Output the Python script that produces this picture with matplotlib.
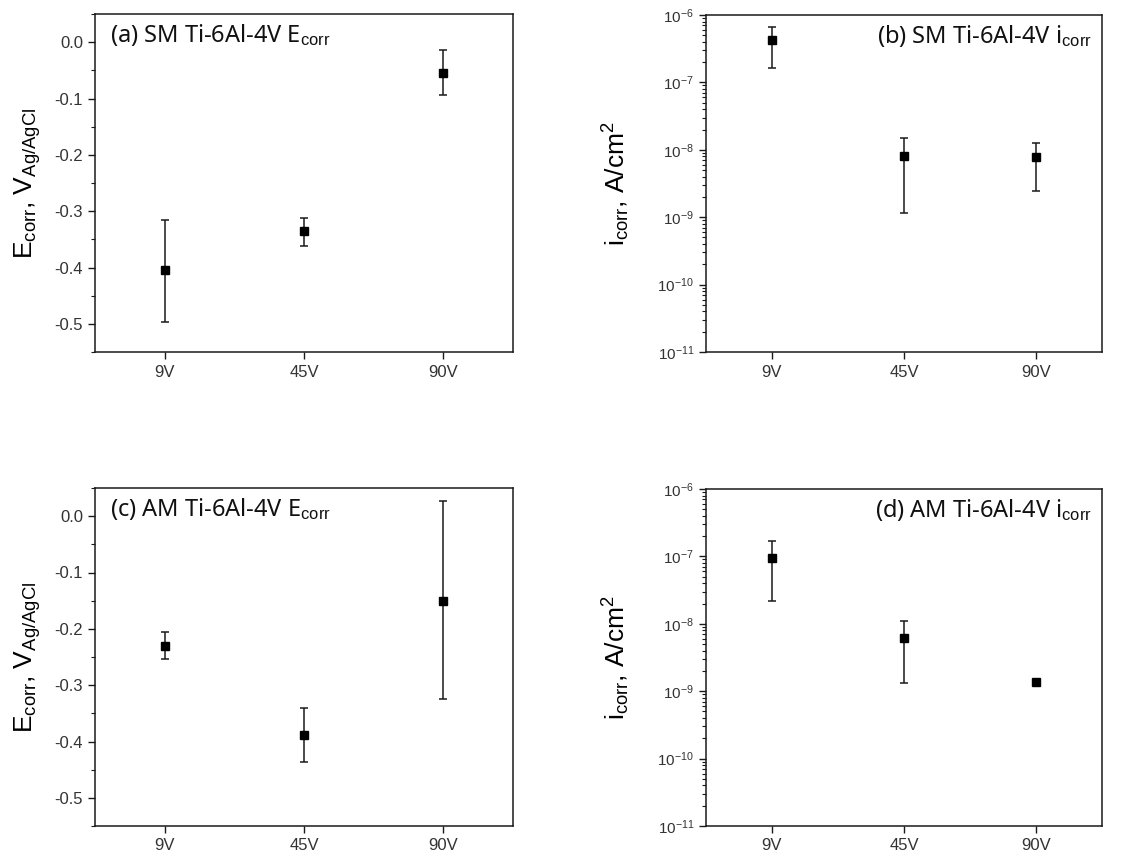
import matplotlib
matplotlib.use("Agg")
import matplotlib.pyplot as plt
import numpy as np
from matplotlib.ticker import MultipleLocator, LogLocator, NullFormatter

plt.rcParams['font.family'] = ['Liberation Sans', 'DejaVu Sans']
plt.rcParams['mathtext.fontset'] = 'custom'
plt.rcParams['mathtext.rm'] = 'Liberation Sans'
plt.rcParams['mathtext.it'] = 'Liberation Sans:italic'

# data
cats = ['9V', '45V', '90V']

sm_e = [-0.405, -0.335, -0.054]
sm_e_lo = [-0.497, -0.361, -0.093]
sm_e_hi = [-0.315, -0.312, -0.0135]

am_e = [-0.230, -0.389, -0.150]
am_e_lo = [-0.254, -0.436, -0.325]
am_e_hi = [-0.205, -0.341, 0.027]

sm_i = [4.26e-7, 8.0e-9, 7.7e-9]
sm_i_lo = [1.63e-7, 1.16e-9, 2.45e-9]
sm_i_hi = [6.7e-7, 1.50e-8, 1.27e-8]

am_i = [9.6e-8, 6.1e-9, 1.36e-9]
am_i_lo = [2.2e-8, 1.34e-9, 1.36e-9]
am_i_hi = [1.71e-7, 1.11e-8, 1.36e-9]

titles = [r"(a) SM Ti-6Al-4V E$_{\mathrm{corr}}$",
          r"(b) SM Ti-6Al-4V i$_{\mathrm{corr}}$",
          r"(c) AM Ti-6Al-4V E$_{\mathrm{corr}}$",
          r"(d) AM Ti-6Al-4V i$_{\mathrm{corr}}$"]

W, H = 1131, 857
fig = plt.figure(figsize=(W / 100, H / 100), dpi=100)

def box(l, t, r, b):
    return [l / W, 1 - b / H, (r - l) / W, (b - t) / H]

ax_a = fig.add_axes(box(95, 14, 513, 352))
ax_b = fig.add_axes(box(706, 15, 1102, 352))
ax_c = fig.add_axes(box(95, 488, 513, 826))
ax_d = fig.add_axes(box(706, 489, 1102, 826))

ink = '#1a1a1a'
x = np.arange(len(cats))


def draw(ax, y, lo, hi):
    y = np.array(y)
    lo = np.array(lo)
    hi = np.array(hi)
    m = hi > lo
    ax.errorbar(x[m], y[m], yerr=[y[m] - lo[m], hi[m] - y[m]], fmt='none',
                ecolor=ink, elinewidth=1.1, capsize=3, capthick=1.1, zorder=2)
    ax.plot(x, y, 's', color='black', ms=5.5, zorder=3)


def style(ax):
    ax.set_xlim(-0.5, 2.5)
    ax.set_xticks(x)
    ax.set_xticklabels(cats)
    for s in ax.spines.values():
        s.set_color(ink)
        s.set_linewidth(1.1)
    ax.tick_params(axis='both', which='major', direction='out', length=5,
                   width=1, colors=ink, labelcolor='#333333', labelsize=12)
    ax.tick_params(axis='both', which='minor', direction='out', length=3,
                   width=0.8, colors=ink)
    ax.tick_params(axis='x', which='minor', bottom=False)
    ax.tick_params(axis='x', pad=4)


for ax, y, lo, hi in [(ax_a, sm_e, sm_e_lo, sm_e_hi), (ax_c, am_e, am_e_lo, am_e_hi)]:
    draw(ax, y, lo, hi)
    style(ax)
    ax.set_ylim(-0.55, 0.05)
    ax.yaxis.set_major_locator(MultipleLocator(0.1))
    ax.yaxis.set_minor_locator(MultipleLocator(0.05))
    ax.yaxis.set_major_formatter(plt.FuncFormatter(lambda v, p: f"{v:.1f}"))
    ax.set_ylabel(r"E$_{\mathrm{corr}}$, V$_{\mathrm{Ag/AgCl}}$", fontsize=19,
                  color='black', labelpad=8)

for ax, y, lo, hi in [(ax_b, sm_i, sm_i_lo, sm_i_hi), (ax_d, am_i, am_i_lo, am_i_hi)]:
    ax.set_yscale('log')
    draw(ax, y, lo, hi)
    style(ax)
    ax.set_ylim(1e-11, 1e-6)
    ax.yaxis.set_major_locator(LogLocator(base=10, numticks=10))
    ax.yaxis.set_minor_locator(LogLocator(base=10, subs=np.arange(2, 10), numticks=20))
    ax.yaxis.set_minor_formatter(NullFormatter())
    ax.yaxis.set_major_formatter(plt.FuncFormatter(
        lambda v, p: r"$10^{%d}$" % int(round(np.log10(v)))))
    ax.tick_params(axis='y', which='major', labelsize=11)
    ax.set_ylabel(r"i$_{\mathrm{corr}}$, A/cm$^2$", fontsize=19,
                  color='black', labelpad=18)

for ax, t in zip([ax_a, ax_b, ax_c, ax_d], titles):
    if ax in (ax_a, ax_c):
        ax.text(0.036, 0.975, t, transform=ax.transAxes, ha='left', va='top',
                fontsize=17, family=['Noto Sans', 'DejaVu Sans'], color='#111111')
    else:
        ax.text(0.975, 0.975, t, transform=ax.transAxes, ha='right', va='top',
                fontsize=17, family=['Noto Sans', 'DejaVu Sans'], color='#111111')

fig.savefig('out.png', dpi=100)
